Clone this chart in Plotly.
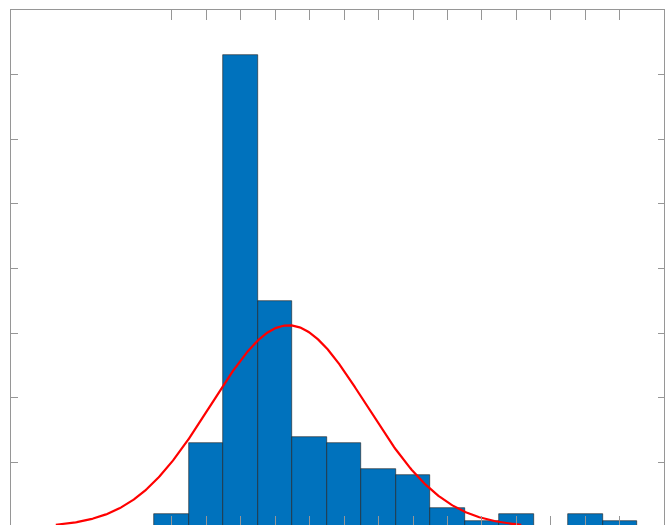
import numpy as np
import plotly.graph_objects as go

# Histogram data (bin centers and counts)
bin_centers = [1, 2, 3, 4, 5, 6, 7, 8, 9, 10, 11, 12, 13, 14]
bin_counts = [2, 13, 73, 35, 14, 13, 9, 8, 3, 1, 2, 0, 2, 1]
bin_width = 1.0

# Normal-fit parameters
fit_mean = 4.39
fit_std = 2.25

x_tick_vals = bin_centers
y_tick_vals = [0, 10, 20, 30, 40, 50, 60, 70, 80]

x_lo, x_hi = -3.66, 15.28
n_total = sum(bin_counts)
xs = np.linspace(fit_mean - 3.0 * fit_std, fit_mean + 3.0 * fit_std, 400)
ys = n_total * bin_width / (fit_std * np.sqrt(2 * np.pi)) * np.exp(-0.5 * ((xs - fit_mean) / fit_std) ** 2)

fig = go.Figure()
fig.add_trace(go.Bar(
    x=bin_centers, y=bin_counts, width=bin_width,
    marker=dict(color="#0072BD", line=dict(color="rgb(30,30,30)", width=0.6)),
    showlegend=False,
))
fig.add_trace(go.Scatter(
    x=xs, y=ys, mode="lines",
    line=dict(color="#FF0000", width=2.2),
    showlegend=False,
))

axis_col = "rgb(150,150,150)"
fig.update_layout(
    width=670, height=525,
    margin=dict(l=11, r=6, t=10, b=0, pad=0),
    paper_bgcolor="white", plot_bgcolor="white",
    bargap=0,
    xaxis=dict(range=[x_lo, x_hi], tickvals=x_tick_vals, showticklabels=False,
               ticks="inside", ticklen=9.5, tickcolor=axis_col, tickwidth=1,
               showline=True, linecolor=axis_col, linewidth=1, mirror="ticks",
               showgrid=False, zeroline=False),
    yaxis=dict(range=[0.31, 80], tickvals=y_tick_vals, showticklabels=False,
               ticks="inside", ticklen=6.5, tickcolor=axis_col, tickwidth=1,
               showline=True, linecolor=axis_col, linewidth=1, mirror="ticks",
               showgrid=False, zeroline=False),
)

fig.write_html(
    "out.html",
    config={"displayModeBar": False},
    post_script="document.body.style.margin='0';document.body.style.overflow='hidden';",
)
